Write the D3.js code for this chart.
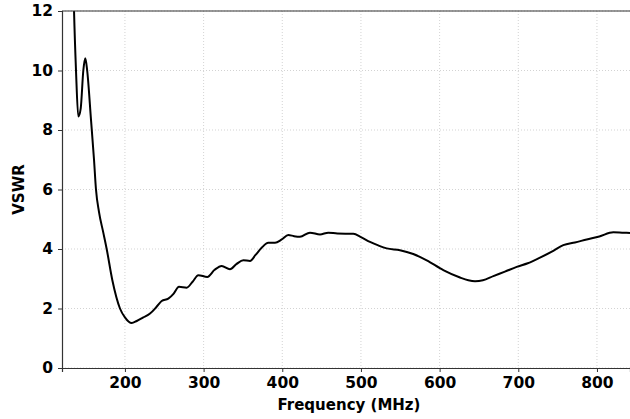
<!DOCTYPE html>
<html>
<head>
<meta charset="utf-8">
<script src="https://cdn.jsdelivr.net/npm/d3@7"></script>
<style>
  body { margin: 0; background: #fff; }
  text { font-family: "DejaVu Sans", sans-serif; font-weight: bold; }
</style>
</head>
<body>
<div id="chart"></div>
<script>
var svgWidth = 630;
var svgHeight = 419;

var margin = { top: 11, right: 0, bottom: 51, left: 62 };
var chartWidth = svgWidth - margin.left - margin.right;
var chartHeight = svgHeight - margin.top - margin.bottom;

// values
var freq = [134, 135.3, 137.8, 140.7, 143.8, 147.1, 149.6, 152, 156.9, 160.7, 163.2, 167,
  172.5, 176.8, 184, 193.7, 200, 208.6, 215, 223.3, 231.9, 240, 246.7, 255.1, 262, 268.7,
  278.5, 286, 293.3, 304.7, 314, 323, 333.5, 342, 350.5, 359, 366, 373.8, 382.2, 390.8,
  399.3, 407.7, 415, 422.5, 435.2, 448, 458.5, 470, 490.3, 500, 511.5, 522, 532.7, 549.6,
  566.5, 583.6, 604.7, 625.9, 636.5, 645, 655, 668.3, 683, 698, 712, 727.6, 742, 757.2,
  772, 787, 803, 820.8, 832, 842];
var vswr = [13.5, 12, 10.0, 8.45, 8.73, 10.0, 10.41, 10.0, 8.33, 7.0, 6.0, 5.25,
  4.55, 4.0, 2.95, 2.0, 1.7, 1.51, 1.58, 1.70, 1.83, 2.05, 2.25, 2.33, 2.5, 2.73,
  2.70, 2.9, 3.12, 3.06, 3.3, 3.43, 3.32, 3.5, 3.62, 3.60, 3.8, 4.04, 4.21, 4.21,
  4.32, 4.47, 4.43, 4.41, 4.55, 4.49, 4.55, 4.52, 4.51, 4.40, 4.24, 4.12, 4.02, 3.96,
  3.83, 3.62, 3.29, 3.04, 2.95, 2.92, 2.95, 3.09, 3.24, 3.40, 3.52, 3.71, 3.90, 4.13,
  4.22, 4.32, 4.42, 4.56, 4.55, 4.54];

var xTicks = [200, 300, 400, 500, 600, 700, 800];
var yTicks = [0, 2, 4, 6, 8, 10, 12];

var data = freq.map((f, i) => ({ f: f, v: vswr[i] }));

var svg = d3.select("#chart")
  .append("svg")
  .attr("width", svgWidth)
  .attr("height", svgHeight);

var chartGroup = svg.append("g")
  .attr("transform", `translate(${margin.left}, ${margin.top})`);

var xScale = d3.scaleLinear()
  .domain([120, 842])
  .range([0, chartWidth]);

var yScale = d3.scaleLinear()
  .domain([0, 12])
  .range([chartHeight, 0]);

// grid
chartGroup.append("g")
  .selectAll("line")
  .data(xTicks)
  .enter()
  .append("line")
  .attr("x1", d => xScale(d))
  .attr("x2", d => xScale(d))
  .attr("y1", 0)
  .attr("y2", chartHeight)
  .attr("stroke", "#c8c8c8")
  .attr("stroke-width", 0.8)
  .attr("stroke-dasharray", "1,2");

chartGroup.append("g")
  .selectAll("line")
  .data(yTicks)
  .enter()
  .append("line")
  .attr("x1", 0)
  .attr("x2", chartWidth)
  .attr("y1", d => yScale(d))
  .attr("y2", d => yScale(d))
  .attr("stroke", "#c8c8c8")
  .attr("stroke-width", 0.8)
  .attr("stroke-dasharray", "1,2");

svg.append("clipPath")
  .attr("id", "clip")
  .append("rect")
  .attr("width", chartWidth)
  .attr("height", chartHeight);

var line = d3.line()
  .x(d => xScale(d.f))
  .y(d => yScale(d.v))
  .curve(d3.curveMonotoneX);

chartGroup.append("path")
  .datum(data)
  .attr("clip-path", "url(#clip)")
  .attr("fill", "none")
  .attr("stroke", "#000")
  .attr("stroke-width", 2)
  .attr("stroke-linejoin", "round")
  .attr("d", line);

// axes
var bottomAxis = d3.axisBottom(xScale).tickValues(xTicks).tickSize(4).tickPadding(5);
var leftAxis = d3.axisLeft(yScale).tickValues(yTicks).tickSize(4).tickPadding(5);

var x_axis = chartGroup.append("g")
  .attr("transform", `translate(0, ${chartHeight})`)
  .call(bottomAxis);

var y_axis = chartGroup.append("g")
  .call(leftAxis);

[x_axis, y_axis].forEach(a => {
  a.select(".domain").attr("stroke", "#333").attr("stroke-width", 1.2);
  a.selectAll(".tick line").attr("stroke", "#333");
  a.selectAll(".tick text")
    .attr("fill", "#000")
    .style("font-size", "15.5px")
    .style("font-family", "DejaVu Sans")
    .style("font-weight", "bold");
});

// top spine
chartGroup.append("line")
  .attr("x1", 0)
  .attr("x2", chartWidth)
  .attr("y1", 0)
  .attr("y2", 0)
  .attr("stroke", "#333")
  .attr("stroke-width", 1.2);

chartGroup.append("text")
  .attr("x", 287)
  .attr("y", chartHeight + 42)
  .attr("text-anchor", "middle")
  .style("font-size", "15px")
  .text("Frequency (MHz)");

chartGroup.append("text")
  .attr("transform", "rotate(-90)")
  .attr("x", -chartHeight / 2)
  .attr("y", -38)
  .attr("text-anchor", "middle")
  .style("font-size", "15px")
  .text("VSWR");
</script>
</body>
</html>
